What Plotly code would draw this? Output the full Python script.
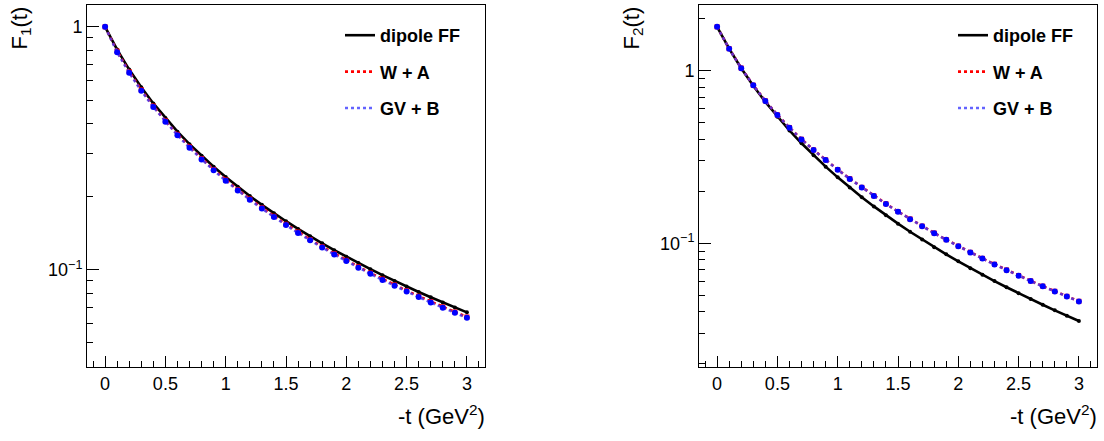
import plotly.graph_objects as go

t = [0.0, 0.1, 0.2, 0.3, 0.4, 0.5, 0.6, 0.7, 0.8, 0.9, 1.0, 1.1, 1.2, 1.3, 1.4, 1.5,
     1.6, 1.7, 1.8, 1.9, 2.0, 2.1, 2.2, 2.3, 2.4, 2.5, 2.6, 2.7, 2.8, 2.9, 3.0]

f1_dipole = [1.0, 0.8063, 0.6673, 0.5637, 0.4839, 0.4211, 0.3704, 0.3290, 0.2945, 0.2655,
             0.2408, 0.2195, 0.2012, 0.1851, 0.1710, 0.1585, 0.1474, 0.1374, 0.1285, 0.1205,
             0.1132, 0.1066, 0.1006, 0.09505, 0.0900, 0.08534, 0.08105, 0.07708, 0.07341,
             0.0700, 0.06683]
f1_wa = [1.0, 0.7942, 0.6533, 0.5507, 0.4723, 0.4106, 0.3611, 0.3208, 0.2871, 0.2589,
         0.2345, 0.2138, 0.1958, 0.1801, 0.1662, 0.1541, 0.1431, 0.1333, 0.1245, 0.1166,
         0.1095, 0.1030, 0.09708, 0.09163, 0.08667, 0.08210, 0.07789, 0.07400, 0.07040,
         0.06706, 0.06396]
f1_gvb = [1.0, 0.7861, 0.6473, 0.5457, 0.4679, 0.4072, 0.3582, 0.3181, 0.2848, 0.2567,
          0.2326, 0.2120, 0.1942, 0.1786, 0.1648, 0.1528, 0.1419, 0.1322, 0.1235, 0.1157,
          0.1086, 0.1021, 0.09627, 0.09087, 0.08595, 0.08141, 0.07724, 0.07338, 0.06981,
          0.0665, 0.06342]

f2_dipole = [1.793, 1.3395, 1.0328, 0.8165, 0.6587, 0.5406, 0.4499, 0.3793, 0.3230, 0.2777,
             0.2407, 0.2102, 0.1848, 0.1634, 0.1453, 0.1298, 0.1165, 0.1050, 0.09493, 0.08619,
             0.0785, 0.07171, 0.0657, 0.06035, 0.05558, 0.0513, 0.04746, 0.0440, 0.04087,
             0.03803, 0.03546]
f2_wa = [1.793, 1.340, 1.035, 0.8230, 0.6686, 0.5541, 0.4679, 0.4002, 0.3472, 0.3041,
         0.2672, 0.2365, 0.2107, 0.1882, 0.1693, 0.1526, 0.1383, 0.1257, 0.1146, 0.1049,
         0.09624, 0.08856, 0.08173, 0.07556, 0.07003, 0.06505, 0.06051, 0.05641, 0.05268,
         0.04925, 0.04610]
f2_gvb = [1.793, 1.338, 1.033, 0.8215, 0.6672, 0.5530, 0.4668, 0.3992, 0.3463, 0.3033,
          0.2665, 0.2358, 0.2101, 0.1877, 0.1688, 0.1522, 0.1379, 0.1253, 0.1143, 0.1046,
          0.09598, 0.08831, 0.08150, 0.07535, 0.06983, 0.06487, 0.06034, 0.05625, 0.05253,
          0.04911, 0.04597]

names = ["dipole FF", "W + A", "GV + B"]
x_ticks = [0, 0.5, 1, 1.5, 2, 2.5, 3]
x_ticklabels = ["0", "0.5", "1", "1.5", "2", "2.5", "3"]
y_ticks = [0.1, 1]
y_ticklabels = ["10<sup>−1</sup>", "1"]

W, H = 1104, 441
FONT = "Liberation Sans, Arial, sans-serif"

fig = go.Figure()

styles = [
    dict(color="black", width=2.6, dash="solid", msize=4, msym="circle"),
    dict(color="red", width=2.6, dash="dot", msize=5, msym="square"),
    dict(color="rgba(60,60,255,0.8)", width=2.6, dash="dot", msize=6, msym="circle"),
]
mcolors = ["black", "red", "blue"]

panels = [
    (f1_dipole, f1_wa, f1_gvb, "x", "y", "legend"),
    (f2_dipole, f2_wa, f2_gvb, "x2", "y2", "legend2"),
]
for (d, a, b, xa, ya, lg) in panels:
    for i, ys in enumerate([d, a, b]):
        s = styles[i]
        fig.add_trace(go.Scatter(
            x=t, y=ys, mode="lines", name=names[i],
            line=dict(color=s["color"], width=s["width"], dash=s["dash"]),
            xaxis=xa, yaxis=ya, legend=lg, legendgroup=lg + str(i),
            showlegend=True))
        fig.add_trace(go.Scatter(
            x=t, y=ys, mode="markers", name=names[i],
            marker=dict(color=mcolors[i], size=s["msize"], symbol=s["msym"]),
            xaxis=xa, yaxis=ya, showlegend=False, hoverinfo="skip"))

def px_x(p):
    return p / W

def px_y(p):
    return 1 - p / H

ydom = [px_y(367), px_y(5)]

axis_common = dict(
    showline=True, linecolor="black", linewidth=1, mirror=True,
    showgrid=False, zeroline=False, ticks="inside",
    tickfont=dict(family=FONT, size=18, color="black"),
)

xaxis_common = dict(
    axis_common, range=[-0.15, 3.15], tickmode="array", tickvals=x_ticks,
    ticktext=x_ticklabels, ticklen=11, tickwidth=1, tickcolor="black",
    minor=dict(ticks="inside", ticklen=6, tickwidth=1, tickcolor="black",
               tickmode="array",
               tickvals=[-0.1] + [round(0.1 * k, 1) for k in range(1, 32) if k % 5 != 0]),
)

minor_y1 = [0.05, 0.06, 0.07, 0.08, 0.09, 0.2, 0.3, 0.4, 0.5, 0.6, 0.7, 0.8, 0.9]
minor_y2 = [0.02, 0.03, 0.04, 0.05, 0.06, 0.07, 0.08, 0.09, 0.2, 0.3, 0.4, 0.5, 0.6, 0.7,
            0.8, 0.9, 2]

leg_font = dict(family=FONT, size=18, color="black", weight="bold")

fig.update_layout(
    width=W, height=H, margin=dict(l=0, r=0, t=0, b=0),
    paper_bgcolor="white", plot_bgcolor="white",
    font=dict(family=FONT, color="black"),
    xaxis=dict(xaxis_common, domain=[px_x(87), px_x(485)], anchor="y"),
    xaxis2=dict(xaxis_common, domain=[px_x(699), px_x(1097)], anchor="y2"),
    yaxis=dict(axis_common, type="log", domain=ydom, anchor="x",
               range=[-1.4, 0.09], tickmode="array", tickvals=y_ticks,
               ticktext=y_ticklabels, ticklen=12, tickcolor="black",
               minor=dict(ticks="inside", ticklen=6, tickcolor="black",
                          tickmode="array", tickvals=minor_y1)),
    yaxis2=dict(axis_common, type="log", domain=ydom, anchor="x2",
                range=[-1.717, 0.38], tickmode="array", tickvals=y_ticks,
                ticktext=y_ticklabels, ticklen=12, tickcolor="black",
                minor=dict(ticks="inside", ticklen=6, tickcolor="black",
                           tickmode="array", tickvals=minor_y2)),
    legend=dict(x=px_x(340), y=px_y(17), xanchor="left", yanchor="top",
                bgcolor="rgba(0,0,0,0)", tracegroupgap=10, font=leg_font),
    legend2=dict(x=px_x(953), y=px_y(17), xanchor="left", yanchor="top",
                 bgcolor="rgba(0,0,0,0)", tracegroupgap=10, font=leg_font),
    showlegend=True,
)

title_font = dict(family=FONT, size=22, color="black")
fig.add_annotation(text="F<sub>1</sub>(t)", xref="paper", yref="paper",
                   x=px_x(21), y=px_y(5), xanchor="center", yanchor="top",
                   textangle=-90, showarrow=False, font=title_font)
fig.add_annotation(text="F<sub>2</sub>(t)", xref="paper", yref="paper",
                   x=px_x(633), y=px_y(5), xanchor="center", yanchor="top",
                   textangle=-90, showarrow=False, font=title_font)
fig.add_annotation(text="-t (GeV<sup>2</sup>)", xref="paper", yref="paper",
                   x=px_x(487), y=px_y(415), xanchor="right", yanchor="middle",
                   showarrow=False, font=title_font)
fig.add_annotation(text="-t (GeV<sup>2</sup>)", xref="paper", yref="paper",
                   x=px_x(1099), y=px_y(415), xanchor="right", yanchor="middle",
                   showarrow=False, font=title_font)

fig.write_html("out.html")
